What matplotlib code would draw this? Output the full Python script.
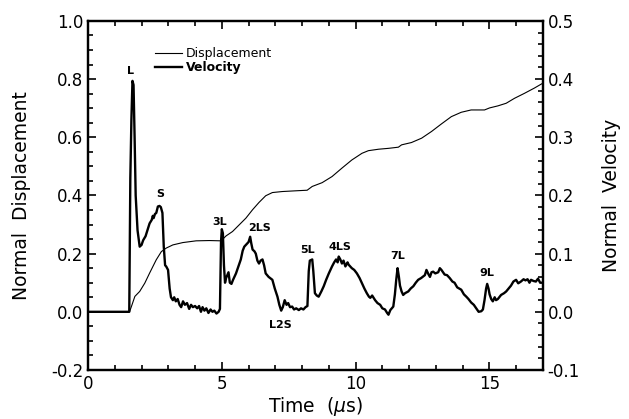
import numpy as np
import matplotlib
matplotlib.use("Agg")
import matplotlib.pyplot as plt
from matplotlib.ticker import MultipleLocator

plt.rcParams['font.family'] = ['DejaVu Sans']
plt.rcParams['mathtext.fontset'] = 'dejavusans'

# normal displacement (left axis)
disp_t = [0.0, 1.55, 1.62, 1.75, 1.93, 2.12, 2.30, 2.55, 2.74, 2.92, 3.17, 3.54, 4.04, 4.54, 4.97,
          5.16, 5.40, 5.65, 5.90, 6.15, 6.39, 6.64, 6.89, 7.26, 7.76, 8.19, 8.38, 8.75, 9.12, 9.49,
          9.86, 10.24, 10.48, 10.86, 11.23, 11.60, 11.72, 12.09, 12.47, 12.84, 13.21, 13.58, 13.95,
          14.32, 14.82, 15.01, 15.32, 15.63, 15.94, 16.31, 16.68, 17.0]
disp = [0.0, 0.0, 0.018, 0.053, 0.070, 0.0985, 0.133, 0.179, 0.207, 0.219, 0.230, 0.238, 0.244, 0.245, 0.244,
        0.261, 0.276, 0.299, 0.322, 0.351, 0.376, 0.399, 0.410, 0.4135, 0.416, 0.418, 0.431, 0.444, 0.465, 0.494,
        0.522, 0.545, 0.554, 0.559, 0.562, 0.566, 0.574, 0.582, 0.597, 0.620, 0.646, 0.671, 0.686,
        0.694, 0.694, 0.701, 0.708, 0.717, 0.734, 0.751, 0.769, 0.786]

# normal velocity (right axis)
vel_t = [0.0, 1.54, 1.58, 1.62, 1.66, 1.70, 1.74, 1.78, 1.85, 1.93, 2.00, 2.06, 2.15, 2.25, 2.30,
         2.38, 2.42, 2.45, 2.50, 2.55, 2.61, 2.67, 2.72, 2.78, 2.83, 2.88, 2.92, 2.99, 3.05, 3.10,
         3.17, 3.22, 3.28, 3.35, 3.42, 3.48, 3.55, 3.62, 3.70, 3.78, 3.85, 3.92, 4.00, 4.08, 4.15,
         4.22, 4.28, 4.35, 4.42, 4.50, 4.58, 4.65, 4.72, 4.80, 4.88, 4.93, 4.97, 5.00, 5.04, 5.08,
         5.12, 5.16, 5.22, 5.25, 5.30, 5.36, 5.42, 5.53, 5.62, 5.71, 5.78, 5.84, 5.92, 6.00, 6.06,
         6.10, 6.15, 6.22, 6.27, 6.33, 6.39, 6.45, 6.52, 6.58, 6.64, 6.75, 6.89, 6.98, 7.08, 7.15,
         7.22, 7.28, 7.35, 7.42, 7.48, 7.55, 7.63, 7.70, 7.78, 7.88, 7.96, 8.05, 8.13, 8.20, 8.25,
         8.29, 8.38, 8.42, 8.48, 8.55, 8.62, 8.72, 8.81, 8.90, 9.00, 9.12, 9.20, 9.27, 9.33, 9.37,
         9.43, 9.49, 9.55, 9.62, 9.70, 9.74, 9.80, 9.86, 9.95, 10.05, 10.15, 10.24, 10.33, 10.42, 10.50,
         10.55, 10.62, 10.73, 10.82, 10.92, 11.00, 11.10, 11.18, 11.23, 11.30, 11.41, 11.47, 11.52, 11.57, 11.62,
         11.66, 11.72, 11.78, 11.85, 11.97, 12.06, 12.16, 12.25, 12.34, 12.45, 12.59, 12.65, 12.72, 12.78, 12.84,
         12.90, 12.98, 13.09, 13.15, 13.21, 13.27, 13.33, 13.42, 13.52, 13.62, 13.70, 13.80, 13.95, 14.05, 14.14,
         14.22, 14.32, 14.42, 14.51, 14.60, 14.70, 14.76, 14.82, 14.88, 14.92, 14.97, 15.01, 15.07, 15.13, 15.20,
         15.25, 15.32, 15.44, 15.55, 15.63, 15.72, 15.81, 15.90, 16.00, 16.08, 16.18, 16.28, 16.35, 16.43, 16.50,
         16.56, 16.65, 16.74, 16.82, 16.90, 17.0]
vel = [0.0, 0.0, 0.23, 0.33, 0.397, 0.39, 0.30, 0.20, 0.14, 0.112, 0.115, 0.123, 0.13, 0.145, 0.152,
       0.158, 0.165, 0.161, 0.168, 0.170, 0.181, 0.182, 0.18, 0.17, 0.112, 0.08, 0.078, 0.072, 0.04, 0.025,
       0.02, 0.025, 0.018, 0.022, 0.012, 0.008, 0.018, 0.012, 0.015, 0.005, 0.012, 0.008, 0.01, 0.006, 0.01,
       0.0, 0.008, 0.002, 0.006, -0.002, 0.004, 0.0, 0.002, -0.003, 0.0, 0.005, 0.12, 0.142, 0.135, 0.08,
       0.05, 0.058, 0.065, 0.068, 0.05, 0.048, 0.055, 0.066, 0.078, 0.09, 0.105, 0.112, 0.116, 0.12, 0.129,
       0.118, 0.107, 0.104, 0.10, 0.088, 0.083, 0.088, 0.09, 0.08, 0.066, 0.06, 0.055, 0.04, 0.026, 0.012,
       0.002, 0.008, 0.02, 0.012, 0.015, 0.008, 0.009, 0.004, 0.006, 0.003, 0.006, 0.004, 0.008, 0.01, 0.07,
       0.088, 0.09, 0.07, 0.032, 0.028, 0.026, 0.035, 0.044, 0.055, 0.066, 0.078, 0.085, 0.09, 0.085, 0.095,
       0.09, 0.083, 0.088, 0.078, 0.085, 0.081, 0.078, 0.075, 0.072, 0.066, 0.058, 0.049, 0.04, 0.032, 0.026,
       0.024, 0.028, 0.02, 0.015, 0.012, 0.006, 0.004, -0.002, -0.005, 0.003, 0.009, 0.03, 0.055, 0.075, 0.06,
       0.045, 0.035, 0.029, 0.032, 0.035, 0.040, 0.044, 0.05, 0.055, 0.058, 0.063, 0.072, 0.065, 0.06, 0.068,
       0.069, 0.066, 0.068, 0.075, 0.072, 0.068, 0.064, 0.063, 0.058, 0.052, 0.05, 0.042, 0.038, 0.03, 0.026,
       0.022, 0.016, 0.012, 0.006, 0.0, 0.001, 0.004, 0.02, 0.04, 0.048, 0.04, 0.03, 0.022, 0.018, 0.025,
       0.02, 0.022, 0.029, 0.032, 0.035, 0.04, 0.045, 0.052, 0.055, 0.049, 0.052, 0.056, 0.054, 0.056, 0.05,
       0.055, 0.053, 0.052, 0.057, 0.05, 0.05]

# peak labels (position in displacement units)
peak_labels = ['L', 'S', '3L', '2LS', 'L2S', '5L', '4LS', '7L', '9L']
peak_x = [1.59, 2.70, 4.91, 6.42, 7.20, 8.19, 9.43, 11.57, 14.92]
peak_y = [0.829, 0.405, 0.31, 0.288, -0.045, 0.213, 0.2245, 0.192, 0.135]

fig = plt.figure(figsize=(6.29, 4.19), dpi=100)
ax = fig.add_axes([0.140, 0.117, 0.723, 0.833])
ax2 = ax.twinx()

l1, = ax.plot(disp_t, disp, color='black', lw=0.8, label='Displacement')
l2, = ax2.plot(vel_t, vel, color='black', lw=1.7, label='Velocity')

ax.set_xlim(0, 17)
ax.set_ylim(-0.2, 1.0)
ax2.set_ylim(-0.1, 0.5)

ax.xaxis.set_major_locator(MultipleLocator(5))
ax.xaxis.set_minor_locator(MultipleLocator(1))
ax.yaxis.set_major_locator(MultipleLocator(0.2))
ax.yaxis.set_minor_locator(MultipleLocator(0.05))
ax2.yaxis.set_major_locator(MultipleLocator(0.1))
ax2.yaxis.set_minor_locator(MultipleLocator(0.02))
ax.yaxis.set_major_formatter(plt.FormatStrFormatter('%.1f'))
ax2.yaxis.set_major_formatter(plt.FormatStrFormatter('%.1f'))

ax.tick_params(which='both', direction='in', top=True, right=False, labelsize=12, width=1.2)
ax.tick_params(which='major', length=6)
ax.tick_params(which='minor', length=3.5)
ax2.tick_params(which='both', direction='in', labelsize=12, width=1.2)
ax2.tick_params(which='major', length=6)
ax2.tick_params(which='minor', length=3.5)
for a in (ax, ax2):
    for s in a.spines.values():
        s.set_linewidth(1.6)

ax.set_xlabel('Time  ($\\mu$s)', fontsize=13.5)
ax.xaxis.set_label_coords(0.5, -0.072)
ax.set_ylabel('Normal  Displacement', fontsize=13.5, va='center')
ax.yaxis.set_label_coords(-0.147, 0.5)
ax2.set_ylabel('Normal  Velocity', fontsize=13.5, va='center')
ax2.yaxis.set_label_coords(1.152, 0.5)

for lab, x, y in zip(peak_labels, peak_x, peak_y):
    ax.text(x, y, lab, ha='center', va='center', fontsize=8, fontweight='bold')

leg = ax.legend(handles=[l1, l2], loc='upper left', bbox_to_anchor=(0.147, 0.925),
                frameon=False, fontsize=9, handlelength=2.2, handletextpad=0.3,
                labelspacing=0.1, borderpad=0, borderaxespad=0)
leg.get_texts()[1].set_fontweight('bold')

fig.savefig('out.png', dpi=100)
